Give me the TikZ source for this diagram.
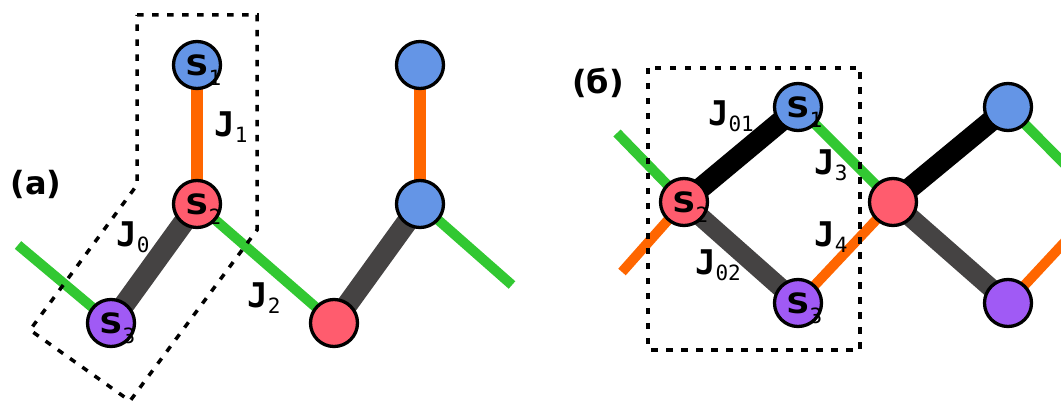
\documentclass[tikz,border=0pt]{standalone}
\usepackage{fontspec}
\setmainfont{DejaVu Sans}
\newfontfamily\sitefont{DejaVu Sans}[FakeStretch=1.15]
\newfontfamily\monofont{DejaVu Sans Mono}
\usetikzlibrary{backgrounds}

\definecolor{siteblue}{RGB}{100,149,230}
\definecolor{sitered}{RGB}{255,92,110}
\definecolor{sitepurple}{RGB}{160,90,245}
\definecolor{bondgreen}{RGB}{50,200,50}
\definecolor{bondorange}{RGB}{255,102,0}
\definecolor{bondgray}{RGB}{69,67,67}

% site label: bold S with a hanging subscript that does not shift the centring
\newcommand\Slab[1]{S\rlap{\smash{\raisebox{-10pt}{\mdseries\monofont\fontsize{21}{21}\selectfont #1}}}}
% coupling label
\newcommand\Jlab[1]{{\bfseries J}\raisebox{-6pt}{\mdseries\fontsize{21}{21}\selectfont #1}}

\tikzset{
  site/.style={circle, draw=black, line width=3.3pt, minimum size=47pt, inner sep=0pt,
    font=\sitefont\bfseries\fontsize{28}{28}\selectfont},
  blue site/.style={site, fill=siteblue},
  red site/.style={site, fill=sitered},
  purple site/.style={site, fill=sitepurple},
  greenbond/.style={draw=bondgreen, line width=10pt},
  orangebond/.style={draw=bondorange, line width=#1},
  orangebond/.default=10pt,
  graybond/.style={draw=bondgray, line width=#1},
  graybond/.default=21pt,
  blackbond/.style={draw=black, line width=21pt},
  cellbox/.style={draw=black, line width=3.5pt, dash pattern=on 6.5pt off 8.5pt},
  jlab/.style={inner sep=0pt, font=\monofont\fontsize{34}{34}\selectfont},
  panel/.style={inner sep=0pt, font=\bfseries\fontsize{32}{32}\selectfont},
}

\begin{document}
\begin{tikzpicture}[x=1pt,y=-1pt]
\useasboundingbox (0,0) rectangle (1061,403);
\clip (0,0) rectangle (1061,403);

% ---- chain (a) ----
\node[blue site]   (a1) at (197,65)  {\Slab{1}};
\node[red site]    (a2) at (197,204) {\Slab{2}};
\node[purple site] (a3) at (111,323) {\Slab{3}};
\node[blue site]   (b1) at (420,65)  {};
\node[blue site]   (b2) at (420,204) {};
\node[red site]    (b3) at (334,323) {};
\coordinate (aL) at (18,245);
\coordinate (bR) at (512,285);

% ---- chain (b) ----
\node[blue site]   (c1) at (798,107)  {\Slab{1}};
\node[red site]    (c2) at (684,202)  {\Slab{2}};
\node[purple site] (c3) at (798,303)  {\Slab{3}};
\node[red site]    (d2) at (893,202)  {};
\node[blue site]   (d1) at (1008,107) {};
\node[purple site] (d3) at (1008,303) {};
\coordinate (cG) at (617,133);
\coordinate (cO) at (622,272);
\coordinate (e2) at (1102,202);

\begin{scope}[on background layer]
  % bonds of chain (a)
  \draw[greenbond] (aL) -- (a3.center);
  \draw[greenbond] (a2.center) -- (b3.center);
  \draw[greenbond] (b2.center) -- (bR);
  \draw[orangebond=12pt] (a1.center) -- (a2.center);
  \draw[orangebond=12pt] (b1.center) -- (b2.center);
  \draw[graybond] (a2.center) -- (a3.center);
  \draw[graybond] (b2.center) -- (b3.center);
  % bonds of chain (b)
  \draw[greenbond] (cG) -- (c2.center);
  \draw[greenbond] (c1.center) -- (d2.center);
  \draw[greenbond] (d1.center) -- (e2);
  \draw[orangebond] (cO) -- (c2.center);
  \draw[orangebond] (c3.center) -- (d2.center);
  \draw[orangebond] (d3.center) -- (e2);
  \draw[blackbond] (c2.center) -- (c1.center);
  \draw[blackbond] (d2.center) -- (d1.center);
  \draw[graybond=19pt] (c2.center) -- (c3.center);
  \draw[graybond=19pt] (d2.center) -- (d3.center);
\end{scope}

% unit cells
\draw[cellbox] (137,15) -- (257,15) -- (257,230) -- (130,401) -- (30,330) -- (137,185) -- cycle;
\draw[cellbox] (648,68) rectangle (860,350);

% panel letters
\node[panel] (pa) at (36,184) {(a)};
\node[panel] (pb) at (598,83) {(б)};

% couplings
\node[jlab] (J0)  at (133,237) {\Jlab{0}};
\node[jlab] (J1)  at (231,127) {\Jlab{1}};
\node[jlab] (J2)  at (264,298) {\Jlab{2}};
\node[jlab] (J01) at (731,116) {\Jlab{01}};
\node[jlab] (J02) at (718,265) {\Jlab{02}};
\node[jlab] (J3)  at (831,165) {\Jlab{3}};
\node[jlab] (J4)  at (831,237) {\Jlab{4}};
\end{tikzpicture}
\end{document}
